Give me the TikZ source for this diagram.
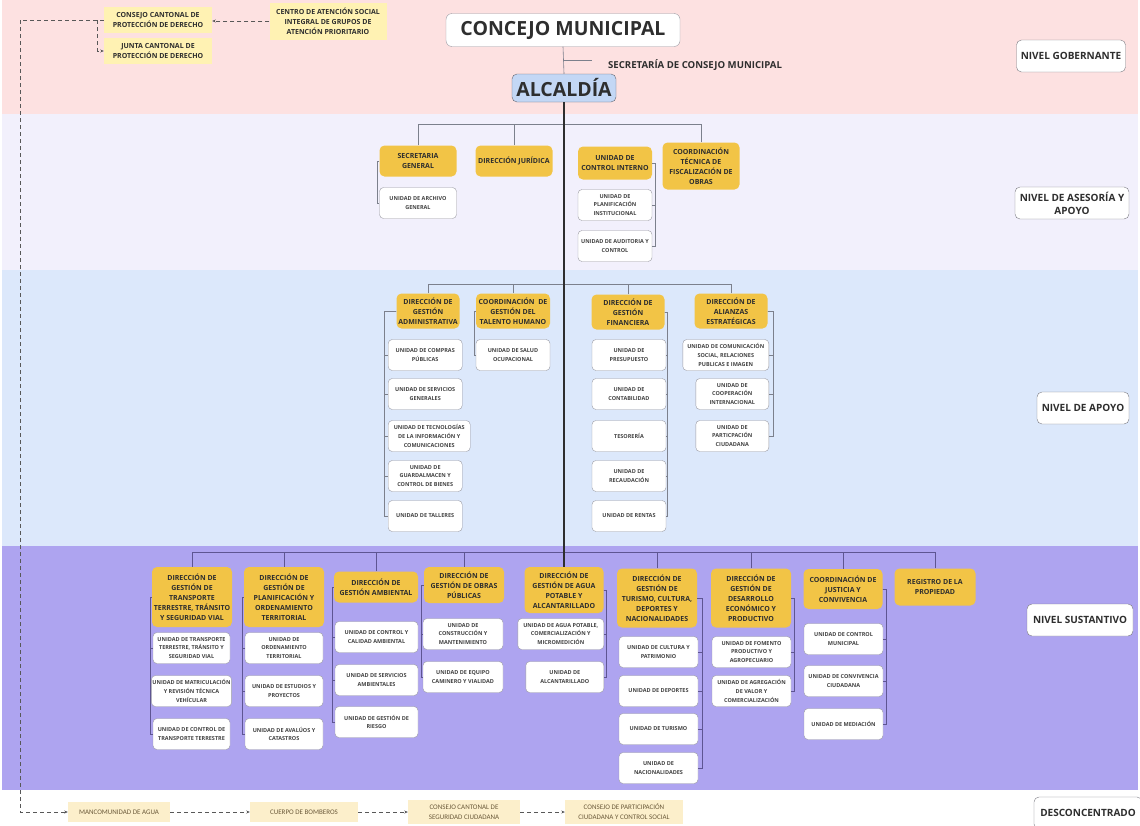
\documentclass[tikz,border=0pt]{standalone}
\usepackage{fontspec}
\setmainfont{Open Sans}
\newfontfamily\carlito{Carlito}
\usetikzlibrary{arrows.meta,positioning}

\definecolor{rosa}{HTML}{FDE1E1}
\definecolor{lila}{HTML}{F2F0FC}
\definecolor{celeste}{HTML}{DCE8FB}
\definecolor{violeta}{HTML}{AEA4F0}
\definecolor{amarillo}{HTML}{F2C446}
\definecolor{crema}{HTML}{FFF2B3}
\definecolor{cremab}{HTML}{FCEFCB}
\definecolor{azulalc}{HTML}{C3D7F5}
\definecolor{tinta}{HTML}{2E2E2E}
\definecolor{borde}{HTML}{9A9AA2}
\definecolor{gris}{HTML}{7C808C}
\definecolor{morado}{HTML}{5E5592}
\definecolor{cafe}{HTML}{6B5A3A}

\tikzset{
  direccion/.style={fill=amarillo, rounded corners=5pt, align=center,
    font=\fontsize{7}{9.9}\selectfont\bfseries, text=tinta, inner sep=1pt},
  unidad/.style={draw=borde, fill=white, rounded corners=4pt, align=center,
    font=\fontsize{5.5}{8.7}\selectfont\bfseries, text=tinta!90, inner sep=1pt,
    minimum width=74pt, minimum height=31pt},
  nivel/.style={draw=borde!80!black, fill=white, rounded corners=5pt, align=center,
    font=\fontsize{10}{13}\selectfont\bfseries, text=tinta, inner sep=2pt, minimum height=32pt},
  externo/.style={fill=crema, align=center, font=\fontsize{7}{10}\selectfont\bfseries,
    text=tinta, inner sep=1pt},
  desconc/.style={fill=cremab, align=center, font=\carlito\fontsize{7}{10}\selectfont,
    text=cafe, inner sep=1pt, minimum height=20pt},
  rama/.style={draw=gris, line width=0.6pt},
  ramap/.style={draw=morado, line width=0.6pt},
  eje/.style={draw=tinta, line width=1.4pt},
  enlace/.style={draw=tinta!80, line width=0.7pt, dash pattern=on 4pt off 3pt,
    -{Stealth[length=3.5pt,width=3pt]}}
}

\begin{document}
\begin{tikzpicture}[x=1pt,y=-1pt]
\useasboundingbox (0,0) rectangle (1140,825);
% franjas de nivel
\fill[rosa] (2,0) rectangle (1138,114);
\fill[lila] (2,114) rectangle (1138,270);
\fill[celeste] (2,270) rectangle (1138,546);
\fill[violeta] (2,546) rectangle (1138,790);

% niveles
\node[nivel, minimum width=109pt] (ng) at (1071,56) {NIVEL GOBERNANTE};
\node[nivel, minimum width=114pt] (na) at (1072,203) {NIVEL DE ASESORÍA Y\\APOYO};
\node[nivel, minimum width=92pt] (nap) at (1083,408) {NIVEL DE APOYO};
\node[nivel, minimum width=106pt] (ns) at (1080,620) {NIVEL SUSTANTIVO};
\node[nivel, minimum width=108pt] (nd) at (1088,813) {DESCONCENTRADO};

% nivel gobernante
\node[draw=borde, fill=white, rounded corners=6pt, minimum width=234pt, minimum height=33pt,
  font=\fontsize{19.5}{22}\selectfont\bfseries, text=tinta] (cm) at (563,30) {CONCEJO MUNICIPAL};
\node[draw=gris!80!black, fill=azulalc, rounded corners=5pt, minimum width=104pt, minimum height=28pt,
  font=\fontsize{19.5}{22}\selectfont\bfseries, text=tinta] (alc) at (564,88) {ALCALDÍA};
\node[anchor=west, font=\fontsize{9.6}{11}\selectfont\bfseries, text=tinta, inner sep=0pt]
  (scm) at (608,65) {SECRETARÍA DE CONSEJO MUNICIPAL};
\draw[rama] (cm.south) -- (alc.north);
\draw[rama] ([yshift=5pt]scm.west -| cm.south) -- ([xshift=-16pt,yshift=5pt]scm.west);

\node[externo, minimum width=108pt, minimum height=26pt] (ccpd) at (158,20) {CONSEJO CANTONAL DE\\PROTECCIÓN DE DERECHO};
\node[externo, minimum width=108pt, minimum height=26pt] (jcpd) at (158,51) {JUNTA CANTONAL DE\\PROTECCIÓN DE DERECHO};
\node[externo, minimum width=117pt, minimum height=37pt] (cas) at (328,21) {CENTRO DE ATENCIÓN SOCIAL\\INTEGRAL DE GRUPOS DE\\ATENCIÓN PRIORITARIO};
\draw[enlace] (cas.west) -- (cas.west -| ccpd.east);
\draw[enlace] ([xshift=-6pt]ccpd.west) |- (jcpd.west);

% desconcentrado
\node[desconc, minimum width=102pt] (man) at (119,812) {MANCOMUNIDAD DE AGUA};
\node[desconc, minimum width=108pt] (bom) at (304,812) {CUERPO DE BOMBEROS};
\node[desconc, minimum width=112pt, minimum height=24pt] (ccsc) at (464,812) {CONSEJO CANTONAL DE\\SEGURIDAD CIUDADANA};
\node[desconc, minimum width=118pt, minimum height=24pt] (cpc) at (624,812) {CONSEJO DE PARTICIPACIÓN\\CIUDADANA Y CONTROL SOCIAL};
\coordinate (esq) at (20,812);
\draw[enlace] (ccpd.west) -| (esq) -- (man.west);
\draw[enlace] (man) -- (bom);
\draw[enlace] (bom) -- (ccsc);
\draw[enlace] (ccsc) -- (cpc);

% nivel de asesoria
\node[direccion, minimum width=77pt, minimum height=31pt] (sg) at (418,161) {SECRETARIA\\GENERAL};
\node[direccion, minimum width=77pt, minimum height=31pt] (dj) at (514,161) {DIRECCIÓN JURÍDICA};
\node[direccion, minimum width=74pt, minimum height=33pt] (uci) at (615,163) {UNIDAD DE\\CONTROL INTERNO};
\node[direccion, minimum width=77pt, minimum height=47pt] (ctf) at (701,166) {COORDINACIÓN\\TÉCNICA DE\\FISCALIZACIÓN DE\\OBRAS};
\coordinate (bus1) at (564,124);
\draw[rama] (sg.north |- bus1) -- (ctf.north |- bus1);
\foreach \p in {sg,dj,ctf}
  \draw[rama] (\p.north) -- (\p.north |- bus1);
\node[unidad, minimum width=77pt] (uag) at (418,203) {UNIDAD DE ARCHIVO\\GENERAL};
\draw[rama] (sg.west) -- ++(-2,0) |- (uag.west);
\foreach \n/\y/\t in {upi/205/{UNIDAD DE\\PLANIFICACIÓN\\INSTITUCIONAL}, uac/246/{UNIDAD DE AUDITORIA Y\\CONTROL}}{
  \node[unidad] (\n) at (615,\y) {\t};
  \draw[rama] (uci.east) -- ++(3,0) |- (\n.east);
}

% nivel de apoyo
\node[direccion, minimum width=63pt, minimum height=35pt] (dga) at (428,311) {DIRECCIÓN DE\\GESTIÓN\\ADMINISTRATIVA};
\node[direccion, minimum width=74pt, minimum height=35pt] (cth) at (513,311) {COORDINACIÓN~~DE\\GESTIÓN DEL\\TALENTO HUMANO};
\node[direccion, minimum width=73pt, minimum height=35pt] (dgf) at (628,312) {DIRECCIÓN DE\\GESTIÓN\\FINANCIERA};
\node[direccion, minimum width=73pt, minimum height=35pt] (dae) at (731,311) {DIRECCIÓN DE\\ALIANZAS\\ESTRATÉGICAS};
\coordinate (bus2) at (564,284);
\draw[rama] (dga.north |- bus2) -- (dae.north |- bus2);
\foreach \p in {dga,cth,dgf,dae}
  \draw[rama] (\p.north) -- (\p.north |- bus2);

\foreach \n/\y/\w/\t in {a1/355/74/{UNIDAD DE COMPRAS\\PÚBLICAS}, a2/394/74/{UNIDAD DE SERVICIOS\\GENERALES},
    a3/436/82/{UNIDAD DE TECNOLOGÍAS\\DE LA INFORMACIÓN Y\\COMUNICACIONES}, a4/476/74/{UNIDAD DE\\GUARDALMACEN Y\\CONTROL DE BIENES},
    a5/516/74/{UNIDAD DE TALLERES}}{
  \node[unidad, anchor=west, minimum width=\w pt] (\n) at (388,\y) {\t};
  \draw[rama] (dga.west) -- ++(-12,0) |- (\n.west);
}
\node[unidad] (uso) at (513,355) {UNIDAD DE SALUD\\OCUPACIONAL};
\draw[rama] (cth.west) -- ++(-2,0) |- (uso.west);
\foreach \n/\y/\t in {f1/355/{UNIDAD DE\\PRESUPUESTO}, f2/394/{UNIDAD DE\\CONTABILIDAD}, f3/436/{TESORERÍA},
    f4/476/{UNIDAD DE\\RECAUDACIÓN}, f5/516/{UNIDAD DE RENTAS}}{
  \node[unidad] (\n) at (629,\y) {\t};
  \draw[rama] (dgf.east) -- ++(3,0) |- (\n.east);
}
\foreach \n/\y/\w/\t in {e1/355/86/{UNIDAD DE COMUNICACIÓN\\SOCIAL, RELACIONES\\PUBLICAS E IMAGEN},
    e2/394/73/{UNIDAD DE\\COOPERACIÓN\\INTERNACIONAL}, e3/436/73/{UNIDAD DE\\PARTICPACIÓN\\CIUDADANA}}{
  \node[unidad, anchor=east, minimum width=\w pt] (\n) at (769,\y) {\t};
  \draw[rama] (dae.east) -- ++(6,0) |- (\n.east);
}

% nivel sustantivo
\foreach \n/\x/\y/\w/\h/\t in {
    s1/192/597/80/60/{DIRECCIÓN DE\\GESTIÓN DE\\TRANSPORTE\\TERRESTRE, TRÁNSITO\\Y SEGURIDAD VIAL},
    s2/284/597/80/60/{DIRECCIÓN DE\\GESTIÓN DE\\PLANIFICACIÓN Y\\ORDENAMIENTO\\TERRITORIAL},
    s3/376/587/84/31/{DIRECCIÓN DE\\GESTIÓN AMBIENTAL},
    s4/464/585/80/36/{DIRECCIÓN DE\\GESTIÓN DE OBRAS\\PÚBLICAS},
    s5/564/590/79/46/{DIRECCIÓN DE\\GESTIÓN DE AGUA\\POTABLE Y\\ALCANTARILLADO},
    s6/657/598/80/59/{DIRECCIÓN DE\\GESTIÓN DE\\TURISMO, CULTURA,\\DEPORTES Y\\NACIONALIDADES},
    s7/751/598/80/59/{DIRECCIÓN DE\\GESTIÓN DE\\DESARROLLO\\ECONÓMICO Y\\PRODUCTIVO},
    s8/843/589/79/40/{COORDINACIÓN DE\\JUSTICIA Y\\CONVIVENCIA},
    s9/935/587/81/37/{REGISTRO DE LA\\PROPIEDAD}}
  \node[direccion, minimum width=\w pt, minimum height=\h pt] (\n) at (\x,\y) {\t};
\coordinate (bus3) at (564,552);
\draw[ramap] (s1.north |- bus3) -- (s9.north |- bus3);
\foreach \p in {s1,s2,s3,s4,s6,s7,s8,s9}
  \draw[ramap] (\p.north) -- (\p.north |- bus3);
\draw[eje] (alc.south) -- (s5.north);

\foreach \n/\y/\t in {t1/648/{UNIDAD DE TRANSPORTE\\TERRESTRE, TRÁNSITO Y\\SEGURIDAD VIAL},
    t2/691/{UNIDAD DE MATRICULACIÓN\\Y REVISIÓN TÉCNICA\\VEHÍCULAR}, t3/734/{UNIDAD DE CONTROL DE\\TRANSPORTE TERRESTRE}}{
  \node[unidad, minimum width=77pt] (\n) at (191.5,\y) {\t};
  \draw[ramap] (s1.west) -- ++(-2,0) |- (\n.west);
}
\foreach \n/\y/\t in {p1/648/{UNIDAD DE\\ORDENAMIENTO\\TERRITORIAL}, p2/691/{UNIDAD DE ESTUDIOS Y\\PROYECTOS},
    p3/734/{UNIDAD DE AVALÚOS Y\\CATASTROS}}{
  \node[unidad, minimum width=78pt] (\n) at (284,\y) {\t};
  \draw[ramap] (s2.west) -- ++(-2,0) |- (\n.west);
}
\foreach \n/\y/\t in {m1/637/{UNIDAD DE CONTROL Y\\CALIDAD AMBIENTAL}, m2/680/{UNIDAD DE SERVICIOS\\AMBIENTALES},
    m3/722/{UNIDAD DE GESTIÓN DE\\RIESGO}}{
  \node[unidad, minimum width=83pt] (\n) at (376.5,\y) {\t};
  \draw[ramap] (s3.west) -- ++(-2,0) |- (\n.west);
}
\foreach \n/\y/\t in {o1/634/{UNIDAD DE\\CONSTRUCCIÓN Y\\MANTENIMIENTO}, o2/677/{UNIDAD DE EQUIPO\\CAMINERO Y VIALIDAD}}{
  \node[unidad, minimum width=80pt] (\n) at (463,\y) {\t};
  \draw[ramap] (s4.west) -- ++(-3,0) |- (\n.west);
}
\foreach \n/\y/\w/\t in {g1/634/86/{UNIDAD DE AGUA POTABLE,\\COMERCIALIZACIÓN Y\\MICROMEDICIÓN},
    g2/677/78/{UNIDAD DE\\ALCANTARILLADO}}{
  \node[unidad, anchor=east, minimum width=\w pt] (\n) at (604,\y) {\t};
  \draw[ramap] (s5.east) -- ++(3,0) |- (\n.east);
}
\foreach \n/\y/\t in {c1/652/{UNIDAD DE CULTURA Y\\PATRIMONIO}, c2/691/{UNIDAD DE DEPORTES},
    c3/729/{UNIDAD DE TURISMO}, c4/768/{UNIDAD DE\\NACIONALIDADES}}{
  \node[unidad, minimum width=79pt] (\n) at (658.5,\y) {\t};
  \draw[ramap] (s6.east) -- ++(5,0) |- (\n.east);
}
\foreach \n/\y/\t in {d1/652/{UNIDAD DE FOMENTO\\PRODUCTIVO Y\\AGROPECUARIO}, d2/691/{UNIDAD DE AGREGACIÓN\\DE VALOR Y\\COMERCIALIZACIÓN}}{
  \node[unidad, minimum width=79pt] (\n) at (751.5,\y) {\t};
  \draw[ramap] (s7.east) -- ++(3,0) |- (\n.east);
}
\foreach \n/\y/\t in {j1/639/{UNIDAD DE CONTROL\\MUNICIPAL}, j2/681/{UNIDAD DE CONVIVENCIA\\CIUDADANA},
    j3/724/{UNIDAD DE MEDIACIÓN}}{
  \node[unidad, minimum width=79pt] (\n) at (843.5,\y) {\t};
  \draw[ramap] (s8.east) -- ++(4,0) |- (\n.east);
}
\end{tikzpicture}
\end{document}
